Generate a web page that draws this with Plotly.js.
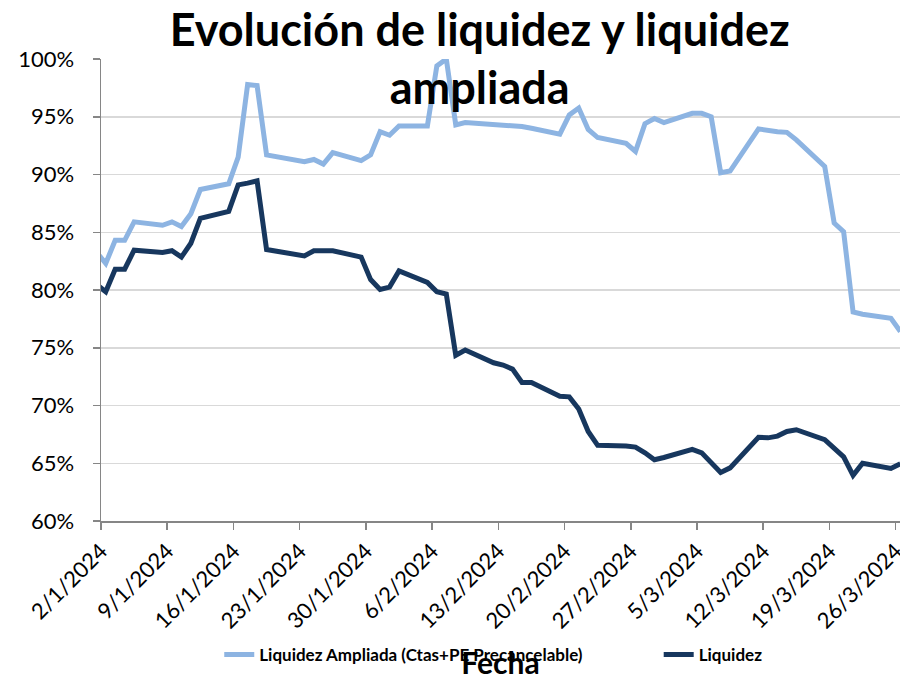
<!DOCTYPE html>
<html>
<head>
<meta charset="utf-8">
<script src="https://cdn.plot.ly/plotly-3.0.1.min.js"></script>
<style>html,body{margin:0;padding:0;background:#fff;}#chart{width:900px;height:680px;}</style>
</head>
<body>
<div id="chart"></div>
<script>
// Business days (the first one, 1/1, lies just left of the axis and is clipped)
const fechas = [
  "2024-01-01","2024-01-02","2024-01-03","2024-01-04","2024-01-05",
  "2024-01-08","2024-01-09","2024-01-10","2024-01-11","2024-01-12",
  "2024-01-15","2024-01-16","2024-01-17","2024-01-18","2024-01-19",
  "2024-01-22","2024-01-23","2024-01-24","2024-01-25","2024-01-26",
  "2024-01-29","2024-01-30","2024-01-31","2024-02-01","2024-02-02",
  "2024-02-05","2024-02-06","2024-02-07","2024-02-08","2024-02-09",
  "2024-02-12","2024-02-13","2024-02-14","2024-02-15","2024-02-16",
  "2024-02-19","2024-02-20","2024-02-21","2024-02-22","2024-02-23",
  "2024-02-26","2024-02-27","2024-02-28","2024-02-29","2024-03-01",
  "2024-03-04","2024-03-05","2024-03-06","2024-03-07","2024-03-08",
  "2024-03-11","2024-03-12","2024-03-13","2024-03-14","2024-03-15",
  "2024-03-18","2024-03-19","2024-03-20","2024-03-21","2024-03-22",
  "2024-03-25","2024-03-26"
];

// Liquidez Ampliada (Ctas+PE Precancelable), %
const liquidezAmpliada = [
  83.3, 82.3, 84.3, 84.3, 85.9,
  85.6, 85.9, 85.5, 86.6, 88.7,
  89.2, 91.5, 97.8, 97.7, 91.7,
  91.2, 91.1, 91.3, 90.9, 91.9,
  91.2, 91.7, 93.7, 93.4, 94.2,
  94.2, 99.4, 100.0, 94.3, 94.5,
  94.35, 94.3, 94.2, 94.15, 94.0,
  93.5, 95.15, 95.75, 93.9, 93.2,
  92.7, 92.0, 94.4, 94.85, 94.5,
  95.3, 95.3, 95.0, 90.15, 90.3,
  93.95, 93.8, 93.7, 93.65, 93.0,
  90.7, 85.8, 85.05, 78.1, 77.9,
  77.55, 76.4
];

// Liquidez, %
const liquidez = [
  80.5, 79.85, 81.8, 81.8, 83.45,
  83.25, 83.4, 82.85, 84.05, 86.2,
  86.8, 89.1, 89.25, 89.45, 83.5,
  83.1, 82.95, 83.4, 83.4, 83.4,
  82.85, 80.9, 80.05, 80.25, 81.65,
  80.65, 79.85, 79.65, 74.35, 74.8,
  73.7, 73.5, 73.15, 72.0, 72.0,
  70.8, 70.75, 69.7, 67.75, 66.55,
  66.5, 66.4, 65.9, 65.3, 65.5,
  66.2, 65.9, 65.0, 64.2, 64.6,
  67.25, 67.2, 67.35, 67.75, 67.9,
  67.05, 66.35, 65.55, 63.95, 65.0,
  64.55, 64.95
];

const tituloGrafico = "Evolución de liquidez y liquidez<br>ampliada";
const nombreAmpliada = "Liquidez Ampliada (Ctas+PE Precancelable)";
const nombreLiquidez = "Liquidez";
const tituloEjeX = "Fecha";

// Excel date axis centres each point in its day slot
const xs = fechas.map(d => d + " 12:00");

const FONT = "Lato, 'Open Sans', sans-serif";
const legendFont = {family: FONT, size: 17, color: "#000000", weight: "bold"};

const traces = [
  {
    x: xs, y: liquidezAmpliada, name: nombreAmpliada,
    type: "scatter", mode: "lines", legend: "legend",
    line: {color: "#8DB4E2", width: 5}
  },
  {
    x: xs, y: liquidez, name: nombreLiquidez,
    type: "scatter", mode: "lines", legend: "legend2",
    line: {color: "#17375E", width: 5}
  }
];

const layout = {
  width: 900, height: 680,
  margin: {l: 101, r: 0, t: 59, b: 159},
  paper_bgcolor: "#ffffff", plot_bgcolor: "#ffffff",
  font: {family: FONT, color: "#000000"},
  showlegend: true,
  title: {
    text: tituloGrafico,
    font: {family: FONT, size: 45, color: "#000000", weight: "bold"},
    x: 0.533, xref: "container", xanchor: "center",
    y: 0.933, yref: "container", yanchor: "top"
  },
  xaxis: {
    type: "date",
    range: ["2024-01-02 00:00", "2024-03-26 11:00"],
    tick0: "2024-01-02", dtick: 7 * 24 * 3600 * 1000,
    tickformat: "%-d/%-m/%Y",
    tickangle: -45,
    ticklabeloverflow: "allow",
    tickfont: {family: FONT, size: 22, color: "#000000"},
    ticks: "outside", ticklen: 7, tickwidth: 1.5, tickcolor: "#868686",
    showline: true, linecolor: "#868686", linewidth: 1.5,
    showgrid: false, zeroline: false,
    title: {text: tituloEjeX, font: {family: FONT, size: 30, color: "#000000", weight: "bold"}, standoff: 24}
  },
  yaxis: {
    range: [60, 100],
    dtick: 5, tick0: 60,
    ticksuffix: "%",
    tickfont: {family: FONT, size: 22, color: "#000000"},
    ticks: "outside", ticklen: 7, tickwidth: 1.5, tickcolor: "#868686",
    ticklabelstandoff: 14,
    showline: true, linecolor: "#868686", linewidth: 1.5,
    showgrid: true, gridcolor: "#D9D9D9", gridwidth: 1.5,
    zeroline: false
  },
  legend: {
    orientation: "h",
    x: 0.148, xanchor: "left",
    y: -0.29, yanchor: "middle",
    font: legendFont,
    bgcolor: "rgba(0,0,0,0)"
  },
  legend2: {
    orientation: "h",
    x: 0.698, xanchor: "left",
    y: -0.29, yanchor: "middle",
    font: legendFont,
    bgcolor: "rgba(0,0,0,0)"
  }
};

Plotly.newPlot("chart", traces, layout, {displayModeBar: false, staticPlot: true});
</script>
</body>
</html>
